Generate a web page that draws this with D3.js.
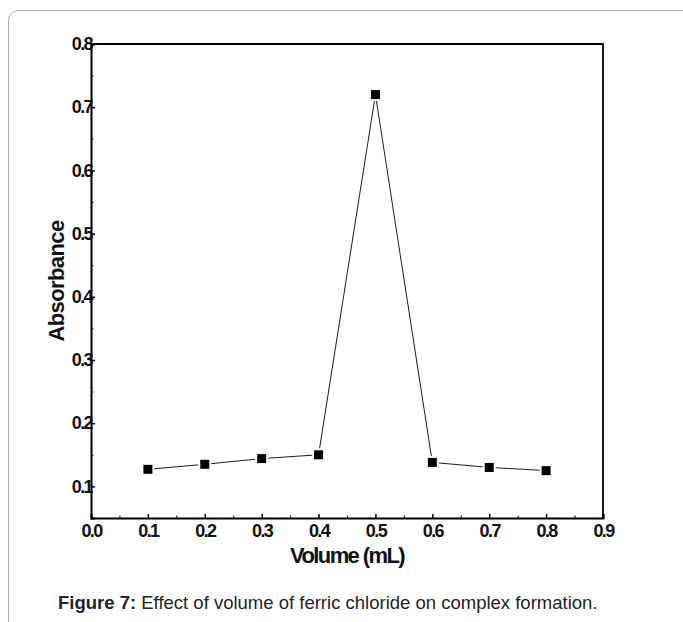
<!DOCTYPE html>
<html>
<head>
<meta charset="utf-8">
<script src="https://cdn.jsdelivr.net/npm/d3@7"></script>
<style>
  body { margin: 0; background: #fff; }
  svg { display: block; font-family: "Liberation Sans", Arial, sans-serif; }
</style>
</head>
<body>
<svg id="chart" width="683" height="622"></svg>
<script>
const WIDTH = 683;
const HEIGHT = 622;
const MARGIN = { left: 91, top: 44, right: 80, bottom: 104 };

// data
const volumes = [0.1, 0.2, 0.3, 0.4, 0.5, 0.6, 0.7, 0.8];
const absorbance = [0.127, 0.135, 0.144, 0.150, 0.720, 0.138, 0.130, 0.125];
const xTicks = [0.0, 0.1, 0.2, 0.3, 0.4, 0.5, 0.6, 0.7, 0.8, 0.9];
const yTicks = [0.1, 0.2, 0.3, 0.4, 0.5, 0.6, 0.7, 0.8];
const xMinor = [0.05, 0.15, 0.25, 0.35, 0.45, 0.55, 0.65, 0.75, 0.85];
const yMinor = [0.15, 0.25, 0.35, 0.45, 0.55, 0.65, 0.75];

const svg = d3.select("#chart");

// card border
svg.append("rect")
  .attr("x", 8.5).attr("y", 10.5)
  .attr("width", 700).attr("height", 640)
  .attr("rx", 10)
  .attr("fill", "none")
  .attr("stroke", "#a8a8a8")
  .attr("stroke-width", 1);

const x = d3.scaleLinear().domain([0, 0.9]).range([MARGIN.left, WIDTH - MARGIN.right]);
const y = d3.scaleLinear().domain([0.05, 0.8]).range([HEIGHT - MARGIN.bottom, MARGIN.top]);

const x0 = x.range()[0], x1 = x.range()[1];
const y0 = y.range()[0], y1 = y.range()[1];

// frame
svg.append("path")
  .attr("d", `M${x0},${y1}H${x1}V${y0}`)
  .attr("fill", "none").attr("stroke", "#000").attr("stroke-width", 1.8);

// bottom axis
const xAxis = svg.append("g")
  .attr("transform", `translate(0,${y0})`)
  .call(d3.axisBottom(x).tickValues(xTicks).tickFormat(d3.format(".1f")).tickSize(-4).tickPadding(6));
xAxis.select(".domain").attr("stroke-width", 2.2);
xAxis.selectAll(".tick line").attr("stroke-width", 1.5);
xAxis.selectAll("text")
  .attr("font-size", 18).attr("font-weight", "bold")
  .attr("letter-spacing", "-1.6px").attr("fill", "#111")
  .attr("font-family", "Liberation Sans, Arial, sans-serif");

svg.append("g")
  .attr("transform", `translate(0,${y0})`)
  .call(d3.axisBottom(x).tickValues(xMinor).tickFormat("").tickSize(-2.5))
  .call(g => g.select(".domain").remove());

// left axis
const yAxis = svg.append("g")
  .attr("transform", `translate(${x0},0)`)
  .call(d3.axisLeft(y).tickValues(yTicks).tickFormat(d3.format(".1f")).tickSize(-4).tickPadding(-1));
yAxis.select(".domain").attr("stroke-width", 2);
yAxis.selectAll(".tick line").attr("stroke-width", 1.5);
yAxis.selectAll("text")
  .attr("font-size", 18).attr("font-weight", "bold")
  .attr("letter-spacing", "-1.6px").attr("fill", "#111")
  .attr("font-family", "Liberation Sans, Arial, sans-serif");

svg.append("g")
  .attr("transform", `translate(${x0},0)`)
  .call(d3.axisLeft(y).tickValues(yMinor).tickFormat("").tickSize(-2.5))
  .call(g => g.select(".domain").remove());

// line + markers (white halo leaves a small gap like the original)
const line = d3.line().x((d, i) => x(volumes[i])).y(d => y(d));
svg.append("path")
  .datum(absorbance)
  .attr("d", line)
  .attr("fill", "none").attr("stroke", "#000").attr("stroke-width", 0.9);

const S = 11;
svg.selectAll("rect.pt")
  .data(absorbance)
  .join("rect")
  .attr("class", "pt")
  .attr("x", (d, i) => x(volumes[i]) - S / 2)
  .attr("y", d => y(d) - S / 2)
  .attr("width", S).attr("height", S)
  .attr("fill", "#000")
  .attr("stroke", "#fff")
  .attr("stroke-width", 2);

// axis titles
svg.append("text")
  .attr("x", (x0 + x1) / 2).attr("y", 563)
  .attr("text-anchor", "middle")
  .attr("font-size", 22).attr("font-weight", "bold")
  .attr("letter-spacing", "-1.6px").attr("fill", "#111")
  .text("Volume (mL)");

svg.append("text")
  .attr("transform", `translate(64,${(y0 + y1) / 2}) rotate(-90)`)
  .attr("text-anchor", "middle")
  .attr("font-size", 22).attr("font-weight", "bold")
  .attr("letter-spacing", "-0.6px").attr("fill", "#111")
  .text("Absorbance");

// caption
const cap = svg.append("text")
  .attr("x", 58).attr("y", 609)
  .attr("font-size", 18.5).attr("fill", "#222");
cap.append("tspan").attr("font-weight", "bold").text("Figure 7:");
cap.append("tspan").text(" Effect of volume of ferric chloride on complex formation.");
</script>
</body>
</html>
